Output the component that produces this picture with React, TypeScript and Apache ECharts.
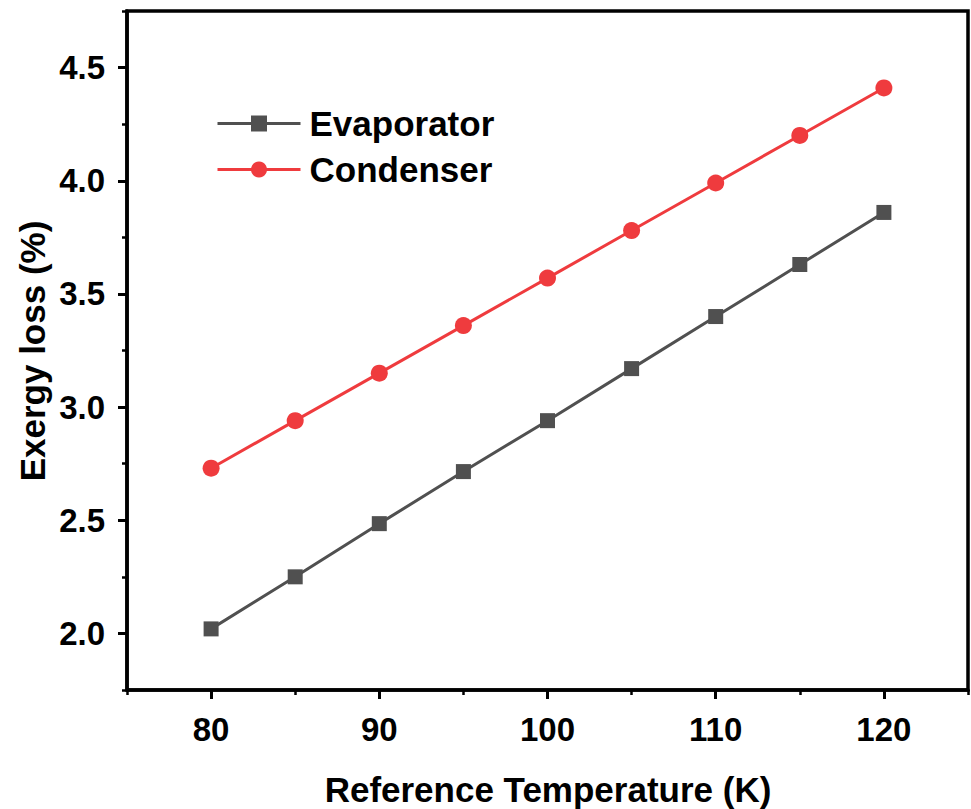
import React, { useEffect, useRef } from "react";
import * as echarts from "echarts";

// Reference temperature (K)
const temperatures = [80, 85, 90, 95, 100, 105, 110, 115, 120];
// Exergy loss (%) per component
const evaporatorLoss = [2.02, 2.25, 2.485, 2.715, 2.94, 3.17, 3.4, 3.63, 3.86];
const condenserLoss = [2.73, 2.94, 3.15, 3.36, 3.57, 3.78, 3.99, 4.2, 4.41];

const xMajorTicks = [80, 90, 100, 110, 120];
const yMajorTicks = [2.0, 2.5, 3.0, 3.5, 4.0, 4.5];

const FONT = "'Liberation Sans', Arial, Helvetica, sans-serif";
const EVAP_COLOR = "#505050";
const COND_COLOR = "#ef3b3e";

export default function App() {
  const ref = useRef<HTMLDivElement>(null);

  useEffect(() => {
    if (!ref.current) return;
    const chart = echarts.init(ref.current, undefined, { renderer: "svg" });

    const xBase = { type: "value", min: 75, max: 125, gridIndex: 0 };
    const yBase = { type: "value", min: 1.75, max: 4.75, gridIndex: 0 };

    chart.setOption({
      animation: false,
      backgroundColor: "#ffffff",
      grid: {
        left: 127,
        right: 3,
        top: 11,
        bottom: 119,
        show: true,
        borderColor: "#000",
        borderWidth: 3.5,
        backgroundColor: "transparent",
      },
      xAxis: [
        {
          ...xBase,
          position: "bottom",
          interval: 5,
          axisLine: { show: true, onZero: false, lineStyle: { color: "#000", width: 3.5 } },
          axisTick: { show: true, inside: false, length: 5, lineStyle: { color: "#000", width: 2.5 } },
          axisLabel: { show: false },
          splitLine: { show: false },
        },
        {
          ...xBase,
          position: "bottom",
          axisLine: { show: false, onZero: false },
          axisTick: {
            show: true,
            inside: false,
            length: 9,
            customValues: xMajorTicks,
            lineStyle: { color: "#000", width: 3 },
          },
          axisLabel: {
            show: true,
            customValues: xMajorTicks,
            margin: 23,
            color: "#000",
            fontSize: 33,
            fontWeight: "bold",
            fontFamily: FONT,
          },
          splitLine: { show: false },
        },
      ],
      yAxis: [
        {
          ...yBase,
          position: "left",
          interval: 0.25,
          axisLine: { show: true, onZero: false, lineStyle: { color: "#000", width: 3.5 } },
          axisTick: { show: true, inside: false, length: 5, lineStyle: { color: "#000", width: 2.5 } },
          axisLabel: { show: false },
          splitLine: { show: false },
        },
        {
          ...yBase,
          position: "left",
          axisLine: { show: false, onZero: false },
          axisTick: {
            show: true,
            inside: false,
            length: 9,
            customValues: yMajorTicks,
            lineStyle: { color: "#000", width: 3 },
          },
          axisLabel: {
            show: true,
            customValues: yMajorTicks,
            margin: 22,
            color: "#000",
            fontSize: 33,
            fontWeight: "bold",
            fontFamily: FONT,
            formatter: (v: number) => v.toFixed(1),
          },
          splitLine: { show: false },
        },
      ],
      legend: {
        orient: "vertical",
        left: 216,
        top: 106,
        padding: 0,
        itemWidth: 83,
        itemHeight: 20,
        itemGap: 11,
        lineStyle: { width: 3 },
        textStyle: { fontSize: 35, fontWeight: "bold", color: "#000", fontFamily: FONT, padding: [0, 0, 0, 4] },
        data: ["Evaporator", "Condenser"],
      },
      graphic: [
        {
          type: "text",
          x: 548,
          y: 789,
          style: {
            text: "Reference Temperature (K)",
            fontSize: 35,
            fontWeight: "bold",
            fontFamily: FONT,
            fill: "#000",
            align: "center",
            verticalAlign: "middle",
          },
        },
        {
          type: "text",
          x: 32,
          y: 351,
          rotation: Math.PI / 2,
          style: {
            text: "Exergy loss (%)",
            fontSize: 35,
            fontWeight: "bold",
            fontFamily: FONT,
            fill: "#000",
            align: "center",
            verticalAlign: "middle",
          },
        },
      ],
      series: [
        {
          name: "Evaporator",
          type: "line",
          xAxisIndex: 0,
          yAxisIndex: 0,
          data: temperatures.map((t, i) => [t, evaporatorLoss[i]]),
          symbol: "rect",
          symbolSize: 15,
          color: EVAP_COLOR,
          lineStyle: { color: EVAP_COLOR, width: 3 },
          itemStyle: { color: EVAP_COLOR },
        },
        {
          name: "Condenser",
          type: "line",
          xAxisIndex: 0,
          yAxisIndex: 0,
          data: temperatures.map((t, i) => [t, condenserLoss[i]]),
          symbol: "circle",
          symbolSize: 17,
          color: COND_COLOR,
          lineStyle: { color: COND_COLOR, width: 3 },
          itemStyle: { color: COND_COLOR },
        },
      ],
    });

    return () => chart.dispose();
  }, []);

  return (
    <div
      ref={ref}
      style={{ position: "absolute", left: 0, top: 0, width: 971, height: 809, background: "#fff" }}
    />
  );
}
